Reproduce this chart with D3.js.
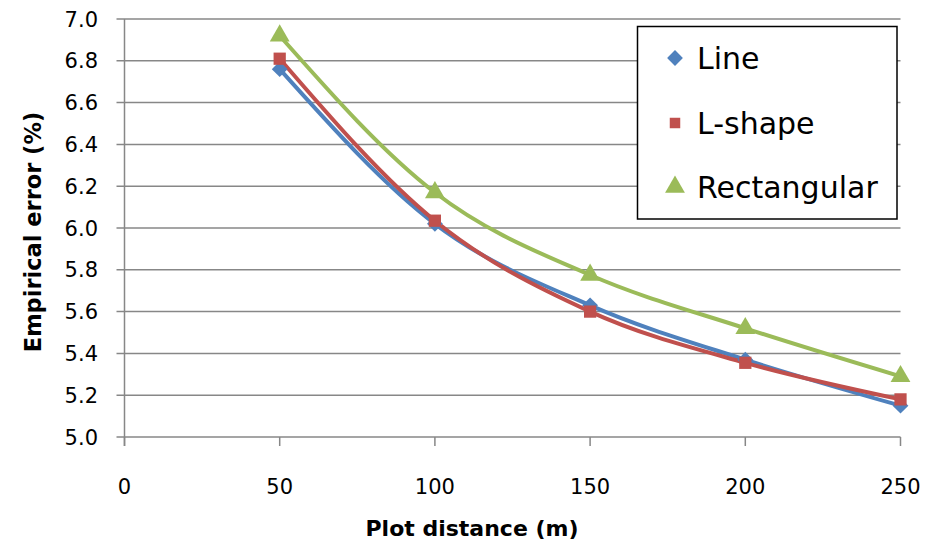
<!DOCTYPE html>
<html><head><meta charset="utf-8">
<script src="https://cdn.jsdelivr.net/npm/d3@7"></script>
<style>body{margin:0;background:#fff}svg{display:block}text{font-family:"DejaVu Sans",sans-serif}</style>
</head><body>
<svg id="c" width="927" height="548"></svg>
<script>
const xValues = [50, 100, 150, 200, 250];
const lineVals = [6.76, 6.02, 5.63, 5.37, 5.15];
const lshapeVals = [6.81, 6.035, 5.60, 5.355, 5.18];
const rectVals = [6.92, 6.17, 5.775, 5.52, 5.29];
const seriesNames = ["Line", "L-shape", "Rectangular"];
const xTicks = [0, 50, 100, 150, 200, 250];
const yTicks = [5.0, 5.2, 5.4, 5.6, 5.8, 6.0, 6.2, 6.4, 6.6, 6.8, 7.0];

const colors = ["#4F81BD", "#C0504D", "#9BBB59"];
const seriesVals = [lineVals, lshapeVals, rectVals];

const svg = d3.select("#c");
const x = d3.scaleLinear().domain([0, 250]).range([124.5, 900.5]);
const y = d3.scaleLinear().domain([5.0, 7.0]).range([437, 19]);
const grid = "#878787";

svg.append("g").selectAll("line").data(yTicks).join("line")
  .attr("x1", x(0) - 8).attr("x2", x(250)).attr("y1", d => y(d)).attr("y2", d => y(d))
  .attr("stroke", grid).attr("stroke-width", 1.5);
svg.append("line").attr("x1", x(0)).attr("x2", x(0)).attr("y1", y(7)).attr("y2", y(5) + 9)
  .attr("stroke", grid).attr("stroke-width", 1.5);
svg.append("g").selectAll("line").data(xTicks).join("line")
  .attr("x1", d => x(d)).attr("x2", d => x(d)).attr("y1", y(5)).attr("y2", y(5) + 9)
  .attr("stroke", grid).attr("stroke-width", 1.5);

svg.append("g").selectAll("text").data(yTicks).join("text")
  .attr("x", 98).attr("y", d => y(d) + 7.5).attr("text-anchor", "end")
  .attr("font-size", 21).attr("fill", "#000").text(d => d3.format(".1f")(d));
svg.append("g").selectAll("text").data(xTicks).join("text")
  .attr("x", d => x(d)).attr("y", 494).attr("text-anchor", "middle")
  .attr("font-size", 21).attr("fill", "#000").text(d => d);

svg.append("text").attr("x", 472).attr("y", 536).attr("text-anchor", "middle")
  .attr("font-size", 22).attr("font-weight", "bold").text("Plot distance (m)");
svg.append("text").attr("transform", "translate(41,232) rotate(-90)").attr("text-anchor", "middle")
  .attr("font-size", 22.5).attr("font-weight", "bold").text("Empirical error (%)");

const lineGen = d3.line().x((d, i) => x(xValues[i])).y(d => y(d)).curve(d3.curveMonotoneX);
[0, 1, 2].forEach(s => {
  svg.append("path").datum(seriesVals[s]).attr("d", lineGen)
    .attr("fill", "none").attr("stroke", colors[s]).attr("stroke-width", 4);
});

function marker(s) {
  if (s === 0) return d3.symbol(d3.symbolSquare, 125)();
  if (s === 1) return d3.symbol(d3.symbolSquare, 150)();
  return d3.symbol(d3.symbolTriangle, 170)();
}
[0, 1, 2].forEach(s => {
  svg.append("g").selectAll("path").data(seriesVals[s]).join("path")
    .attr("transform", (d, i) => `translate(${x(xValues[i])},${y(d)})` + (s === 0 ? " rotate(45)" : ""))
    .attr("d", marker(s)).attr("fill", colors[s]);
});

const lg = svg.append("g");
lg.append("rect").attr("x", 637.5).attr("y", 26.5).attr("width", 259.5).attr("height", 192.5)
  .attr("fill", "#fff").attr("stroke", "#000").attr("stroke-width", 1.5);
const rowY = [58, 123, 187];
seriesNames.forEach((n, s) => {
  lg.append("path")
    .attr("transform", `translate(675,${rowY[s]})` + (s === 0 ? " rotate(45)" : ""))
    .attr("d", s === 1 ? d3.symbol(d3.symbolSquare, 110)() : marker(s)).attr("fill", colors[s]);
  lg.append("text").attr("x", 697).attr("y", rowY[s] + 11)
    .attr("font-size", 30).attr("fill", "#000").text(n);
});
</script>
</body></html>
